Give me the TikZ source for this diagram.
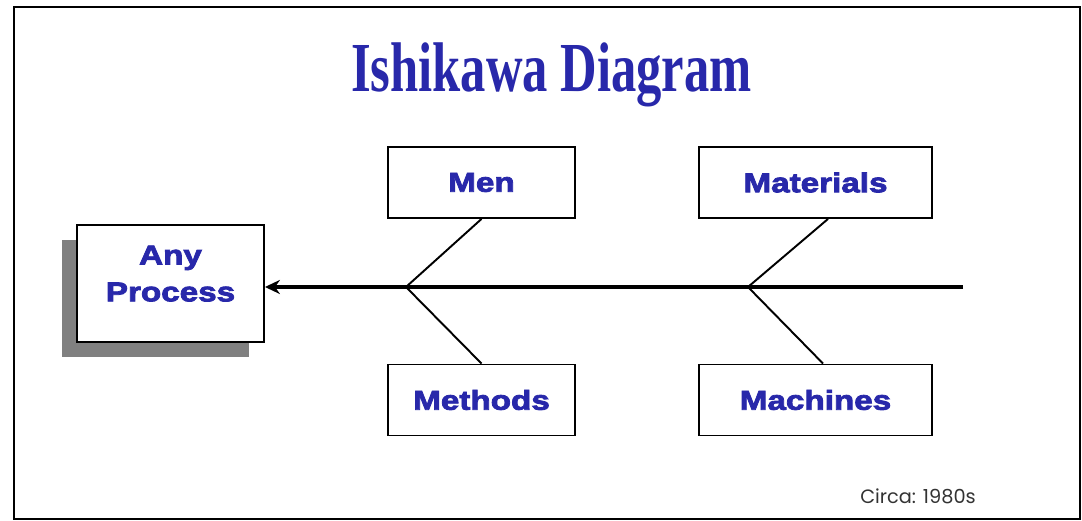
\documentclass[tikz,border=0pt]{standalone}
\usepackage{fontspec}
\setmainfont{Liberation Serif}
\setsansfont{Liberation Sans}
\newfontfamily\titlefont[FakeStretch=0.72]{Liberation Serif Bold}
\newfontfamily\causefont[FakeStretch=1.22, FakeBold=3]{Liberation Sans Bold}
\newfontfamily\notefont{Poppins}
\usepackage{xcolor}
\usepackage{tikz}
\usetikzlibrary{positioning, arrows.meta, shadows}
\definecolor{ishiblue}{RGB}{40,40,170}
\definecolor{shadowgray}{RGB}{128,128,128}

\begin{document}
\begin{tikzpicture}[node distance=6.68cm, auto,
    cause/.style={rectangle, draw, line width=1.1pt, fill=white, minimum width=3.74cm, minimum height=1.42cm,
      inner sep=0pt, text=ishiblue, font=\causefont\fontsize{15.5}{21}\selectfont}]
    \useasboundingbox (0,0) rectangle (21.64,10.42);
    \draw[line width=1.4pt] (0.28,0.04) rectangle (21.6,10.28);

    \node (title) [anchor=base, text=ishiblue, font=\titlefont\fontsize{40}{44}\selectfont] at (11.03,8.58) {Ishikawa Diagram};

    \node (process) [cause, align=center, minimum height=2.33cm, text depth=0.4cm,
      drop shadow={shadow xshift=-0.3cm, shadow yshift=-0.3cm, opacity=1, fill=shadowgray}] at (3.41,4.75) {Any\\Process};
    \node (men) [cause] at (9.63,6.77) {Men};
    \node (materials) [cause, right of=men, minimum width=4.66cm] {Materials};
    \node (methods) [cause, below of=men, node distance=4.35cm] {Methods};
    \node (machines) [cause, below of=materials, node distance=4.35cm, minimum width=4.66cm] {Machines};

    % spine and bones
    \coordinate (tail) at (19.26,4.68);
    \coordinate (fork1) at (8.12,4.68);
    \coordinate (fork2) at (14.96,4.68);
    \draw[-{Stealth[length=8.5pt, width=8pt]}, line width=1.9pt] (tail) -- (tail -| process.east);
    \draw[line width=1.1pt] (men.south) -- (fork1) -- (methods.north);
    \draw[line width=1.1pt] ([xshift=0.25cm]materials.south) -- (fork2) -- ([xshift=0.15cm]machines.north);

    \node (circa) [anchor=base, text=black!80, font=\notefont\fontsize{11}{13}\selectfont] at (18.36,0.34) {Circa: 1980s};
\end{tikzpicture}
\end{document}
